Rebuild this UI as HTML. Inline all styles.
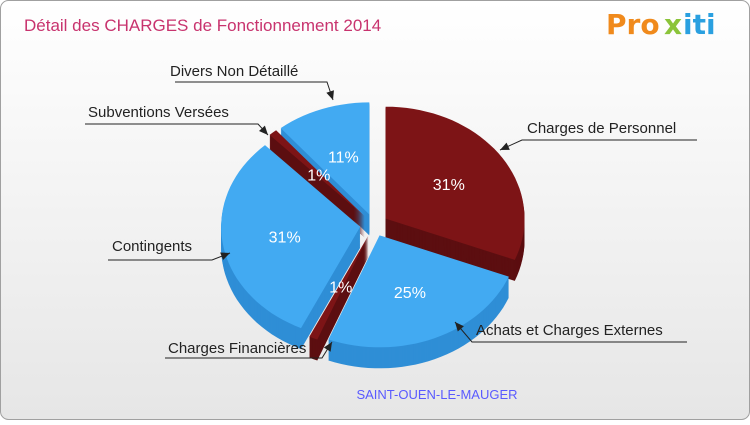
<!DOCTYPE html>
<html><head><meta charset="utf-8"><style>
body{margin:0;width:750px;height:420px;overflow:hidden;font-family:"Liberation Sans",sans-serif}
</style></head><body>
<svg id="chart" width="750" height="420" viewBox="0 0 750 420" xmlns="http://www.w3.org/2000/svg">
<defs><linearGradient id="bg" x1="0" y1="0" x2="0" y2="1"><stop offset="0" stop-color="#ffffff"/><stop offset="1" stop-color="#e6e6e6"/></linearGradient></defs>
<rect x="0.5" y="0.5" width="749" height="419" rx="8" fill="url(#bg)" stroke="#a0a0a0"/>
<text x="24" y="31" font-size="17" fill="#c8336e">Détail des CHARGES de Fonctionnement 2014</text>
<g font-size="28" font-weight="bold" font-family="'DejaVu Sans',sans-serif">
<text x="606" y="34" fill="#f08a1c">Pro</text><text x="664" y="34" fill="#8bc43a">x</text><text x="683" y="34" fill="#2aa0e0">iti</text></g>
<g id="pie"></g>
<g id="labels" font-size="15" fill="#222"></g>
<text x="437" y="399" font-size="13" fill="#5a5aff" text-anchor="middle">SAINT-OUEN-LE-MAUGER</text>
</svg>
<script>
const categories=["Charges de Personnel","Achats et Charges Externes","Charges Financières","Contingents","Subventions Versées","Divers Non Détaillé"];
const values=[31,25,1,31,1,11];
const colors=["#7d1416","#42aaf2","#7d1416","#42aaf2","#7d1416","#42aaf2"];
const sides=["#5c0e10","#2f8ed6","#5c0e10","#2f8ed6","#5c0e10","#2f8ed6"];
const labelPos=[[527,133,"start"],[476,335,"start"],[168,353,"start"],[112,251,"start"],[88,117,"start"],[170,76,"start"]];
const labelLines=[[[500,150],[522,140],[697,140]],[[455,322],[472,342],[687,342]],[[332,342],[322,358],[165,358]],[[230,253],[212,260],[108,260]],[[268,135],[258,124],[85,124]],[[333,100],[327,82],[175,82]]];
const cx=374,cy=225,rx=139,ry=112,ex=14,depth=21;
const NS="http://www.w3.org/2000/svg";
const pie=document.getElementById('pie'),lab=document.getElementById('labels');
const total=values.reduce((a,b)=>a+b,0);
function pt(a,r,ox,oy,dy){return [ox+r*rx*Math.sin(a),oy-r*ry*Math.cos(a)+(dy||0)];}
function slicePath(a0,a1,ox,oy,dy){
 let d="M"+ox+","+(oy+dy);
 const n=Math.max(2,Math.ceil((a1-a0)/0.05));
 for(let i=0;i<=n;i++){const p=pt(a0+(a1-a0)*i/n,1,ox,oy,dy);d+="L"+p[0].toFixed(1)+","+p[1].toFixed(1);}
 return d+"Z";}
let acc=0;const slices=[];
values.forEach((v,i)=>{const a0=acc/total*2*Math.PI;acc+=v;const a1=acc/total*2*Math.PI;const m=(a0+a1)/2;
 slices.push({i,a0,a1,m,ox:cx+ex*Math.sin(m),oy:cy-ex*Math.cos(m)*ry/rx});});
const order=slices.slice().sort((a,b)=>Math.cos(b.m)-Math.cos(a.m));
order.forEach(s=>{
 const g=document.createElementNS(NS,'g');
 
 
 for(let d=depth;d>0;d-=1){const p=document.createElementNS(NS,'path');p.setAttribute('d',slicePath(s.a0,s.a1,s.ox,s.oy,d));p.setAttribute('fill',sides[s.i]);g.appendChild(p);}
 const t=document.createElementNS(NS,'path');t.setAttribute('d',slicePath(s.a0,s.a1,s.ox,s.oy,0));t.setAttribute('fill',colors[s.i]);g.appendChild(t);
 pie.appendChild(g);});
slices.forEach(s=>{
 const r=values[s.i]<3?0.5:0.55;const p=pt(s.m,r,s.ox,s.oy,0);
 const t=document.createElementNS(NS,'text');
 
 
 t.setAttribute('x',p[0]);t.setAttribute('y',p[1]+6);t.setAttribute('text-anchor','middle');t.setAttribute('font-size','16');t.setAttribute('fill','#fff');
 t.textContent=values[s.i]+"%";pie.appendChild(t);});
categories.forEach((c,i)=>{
 const pl=document.createElementNS(NS,'polyline');
 
 
 pl.setAttribute('points',labelLines[i].map(q=>q.join(',')).join(' '));pl.setAttribute('fill','none');pl.setAttribute('stroke','#222');
 lab.appendChild(pl);
 const a=labelLines[i][0],b=labelLines[i][1];const ang=Math.atan2(a[1]-b[1],a[0]-b[0]);
 const ar=document.createElementNS(NS,'path');
 
 
 const L=9,W=4;const bx=a[0]-L*Math.cos(ang),by=a[1]-L*Math.sin(ang);
 ar.setAttribute('d',`M${a[0]},${a[1]}L${bx-W*Math.sin(ang)},${by+W*Math.cos(ang)}L${bx+W*Math.sin(ang)},${by-W*Math.cos(ang)}Z`);ar.setAttribute('fill','#222');lab.appendChild(ar);
 const t=document.createElementNS(NS,'text');
 
 
 t.setAttribute('x',labelPos[i][0]);t.setAttribute('y',labelPos[i][1]);t.textContent=c;lab.appendChild(t);});
</script>
</body></html>
